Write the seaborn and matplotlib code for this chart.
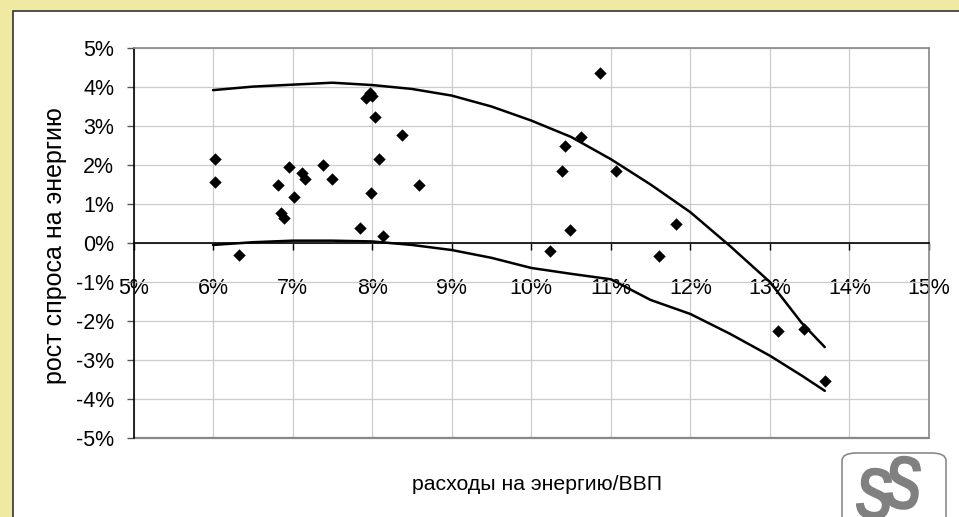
import matplotlib
matplotlib.use("Agg")
import matplotlib.pyplot as plt
import seaborn as sns
import pandas as pd
from matplotlib.patches import Rectangle, FancyBboxPatch, PathPatch
from matplotlib.ticker import FuncFormatter
from matplotlib.textpath import TextPath
from matplotlib.font_manager import FontProperties
from matplotlib.transforms import Affine2D

# ---- data (percent) ----
pts_x = [6.02, 6.02, 6.32, 6.82, 6.86, 6.89, 6.96, 7.02, 7.12, 7.16, 7.38, 7.50,
         7.85, 7.92, 7.97, 8.00, 7.99, 8.04, 8.09, 8.14, 8.37, 8.59,
         10.86, 10.63, 10.42, 10.39, 11.06, 10.49, 11.82, 10.24, 11.61,
         13.10, 13.43, 13.69]
pts_y = [2.15, 1.56, -0.30, 1.50, 0.76, 0.64, 1.94, 1.19, 1.79, 1.64, 2.01, 1.64,
         0.38, 3.71, 3.84, 3.78, 1.27, 3.22, 2.15, 0.19, 2.78, 1.50,
         4.36, 2.71, 2.49, 1.85, 1.85, 0.34, 0.49, -0.20, -0.33,
         -2.26, -2.21, -3.53]

upper_x = [6.0, 6.5, 7.0, 7.5, 8.0, 8.5, 9.0, 9.5, 10.0, 10.5, 11.0, 11.5, 12.0,
           12.5, 13.0, 13.4, 13.69]
upper_y = [3.92, 4.01, 4.06, 4.11, 4.05, 3.95, 3.78, 3.50, 3.14, 2.72, 2.15, 1.50,
           0.79, -0.08, -1.00, -2.05, -2.67]
lower_x = [6.0, 6.5, 7.0, 7.5, 8.0, 8.5, 9.0, 9.5, 10.0, 10.5, 11.0, 11.5, 12.0,
           12.5, 13.0, 13.4, 13.69]
lower_y = [-0.05, 0.02, 0.06, 0.06, 0.04, -0.05, -0.18, -0.38, -0.64, -0.79, -0.93,
           -1.46, -1.82, -2.33, -2.89, -3.40, -3.79]

x_ticks = [5, 6, 7, 8, 9, 10, 11, 12, 13, 14, 15]
y_ticks = [-5, -4, -3, -2, -1, 0, 1, 2, 3, 4, 5]
x_label = "расходы на энергию/ВВП"
y_label = "рост спроса на энергию"

W, H = 959, 517
sns.set_style("white")
plt.rcParams["font.family"] = ["Liberation Sans", "DejaVu Sans"]
plt.rcParams["text.color"] = "black"
plt.rcParams["xtick.color"] = "black"
plt.rcParams["ytick.color"] = "black"

fig = plt.figure(figsize=(W / 100, H / 100), dpi=100)
fig.patch.set_facecolor("#EFE9A2")

def fx(px):
    return px / W

def fy(py):
    return 1 - py / H

# white panel
panel = Rectangle((fx(13), fy(530)), fx(980 - 13), fy(11) - fy(530),
                  transform=fig.transFigure, facecolor="white",
                  edgecolor="#333333", lw=1.2, zorder=-5)
fig.patches.append(panel)

ax = fig.add_axes([fx(133.5), fy(438), fx(929 - 133.5), (438 - 48) / H])
ax.set_facecolor("white")

df_pts = pd.DataFrame({"x": pts_x, "y": pts_y})
df_up = pd.DataFrame({"x": upper_x, "y": upper_y})
df_lo = pd.DataFrame({"x": lower_x, "y": lower_y})

sns.lineplot(data=df_up, x="x", y="y", sort=False, color="black", lw=1.8, ax=ax, zorder=3)
sns.lineplot(data=df_lo, x="x", y="y", sort=False, color="black", lw=1.8, ax=ax, zorder=3)
sns.scatterplot(data=df_pts, x="x", y="y", marker="D", s=40, color="black",
                edgecolor="black", linewidth=0, ax=ax, zorder=4)

ax.set_xlim(5, 15)
ax.set_ylim(-5, 5)
ax.set_xticks(x_ticks)
ax.set_yticks(y_ticks)
pct = FuncFormatter(lambda v, p: f"{v:.0f}%")
ax.xaxis.set_major_formatter(pct)
ax.yaxis.set_major_formatter(pct)
ax.grid(True, color="#CCCCCC", lw=0.9)
ax.set_axisbelow(True)

for s in ["top", "right"]:
    ax.spines[s].set_color("#888888")
    ax.spines[s].set_linewidth(1.2)
ax.spines["left"].set_color("black")
ax.spines["left"].set_linewidth(1.2)
ax.spines["bottom"].set_position(("data", 0))
ax.spines["bottom"].set_color("black")
ax.spines["bottom"].set_linewidth(1.2)
ax.axhline(-5, color="#888888", lw=1.6, clip_on=False, zorder=2)

ax.tick_params(axis="y", which="major", direction="out", length=5, width=1,
               color="#555555", labelcolor="black", labelsize=15.5, pad=9, left=True)
ax.tick_params(axis="x", which="major", direction="out", length=5, width=1,
               color="black", labelcolor="black", labelsize=15.5, pad=20, bottom=True)
for lbl in ax.get_xticklabels():
    lbl.set_zorder(5)
ax.set_xlabel("")
ax.set_ylabel("")

fig.text(fx(55), fy(245.5), y_label, rotation=90, ha="center", va="center",
         fontsize=18, color="black")
fig.text(fx(536.7), fy(485), x_label, ha="center", va="center", fontsize=15.3,
         color="black")

# logo
fig.patches.append(FancyBboxPatch((fx(842), fy(530)), fx(946 - 842), fy(453) - fy(530),
                                  boxstyle="round,pad=0,rounding_size=0.015",
                                  transform=fig.transFigure, facecolor="white",
                                  edgecolor="#8a8a8a", lw=1.2, zorder=1))
fp = FontProperties(family="Liberation Sans", weight="bold")
sp = TextPath((0, 0), "S", size=1, prop=fp)
ext = sp.get_extents()
for (cx, top, h, w) in [(878, 468, 52, 34), (907, 456, 54, 34)]:
    sx = w / ext.width
    sy = h / ext.height
    tr = (Affine2D().translate(-ext.x0 - ext.width / 2, -ext.y1)
          .scale(sx, sy).rotate_deg(-8).translate(cx, H - top))
    path = tr.transform_path(sp)
    fig.patches.append(PathPatch(path, transform=None, facecolor="#808080",
                                 edgecolor="none", zorder=2))

fig.savefig("out.png", dpi=100, facecolor=fig.get_facecolor())
